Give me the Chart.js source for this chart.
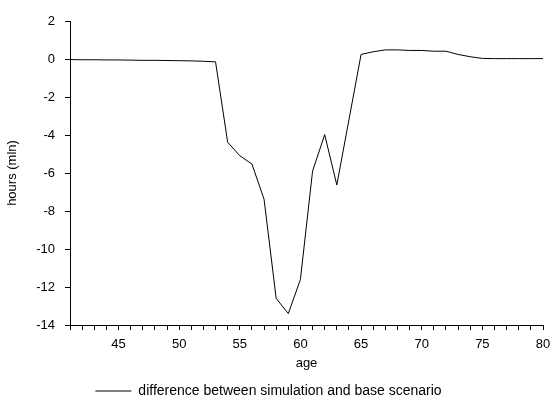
<!DOCTYPE html>
<html>
<head>
<meta charset="utf-8">
<script src="https://cdn.jsdelivr.net/npm/chart.js@4"></script>
<style>
  html, body { margin: 0; padding: 0; background: #fff; }
  #wrap { width: 554px; height: 398px; }
</style>
</head>
<body>
<div id="wrap"><canvas id="myChart"></canvas></div>
<script>
const ages = [41, 42, 43, 44, 45, 46, 47, 48, 49, 50, 51, 52, 53, 54, 55, 56, 57, 58, 59, 60,
              61, 62, 63, 64, 65, 66, 67, 68, 69, 70, 71, 72, 73, 74, 75, 76, 77, 78, 79, 80];
const diff = [-0.03, -0.04, -0.04, -0.05, -0.05, -0.06, -0.07, -0.07, -0.08, -0.09, -0.1, -0.12, -0.15,
              -4.38, -5.09, -5.53, -7.38, -12.6, -13.4, -11.6,
              -5.9, -3.98, -6.63, -3.2, 0.24, 0.38, 0.48, 0.48, 0.45, 0.45, 0.41, 0.41, 0.24, 0.12, 0.03,
              0.02, 0.02, 0.02, 0.02, 0.02];
const yTicks = [-14, -12, -10, -8, -6, -4, -2, 0, 2];
const seriesName = 'difference between simulation and base scenario';

const ctx = document.getElementById('myChart');
const font = { family: 'Liberation Sans, Arial, sans-serif', size: 13 };
const legendFont = { family: 'Liberation Sans, Arial, sans-serif', size: 14 };

const myChart = new Chart(ctx, {
  type: 'line',
  data: {
    datasets: [{
      label: seriesName,
      data: ages.map((a, i) => ({ x: a, y: diff[i] })),
      borderColor: '#000',
      backgroundColor: '#000',
      borderWidth: 1,
      pointRadius: 0,
      tension: 0
    }]
  },
  options: {
    responsive: true,
    maintainAspectRatio: false,
    animation: false,
    // negative left/bottom padding nudges the legend to where the original sits
    layout: { padding: { left: -6, right: 11, top: 21, bottom: -10 } },
    plugins: {
      tooltip: { enabled: false },
      legend: {
        position: 'bottom',
        labels: {
          usePointStyle: true,
          pointStyle: 'line',
          pointStyleWidth: 36,
          boxWidth: 36,
          boxHeight: 1,
          color: '#000',
          font: legendFont,
          padding: 0
        }
      }
    },
    scales: {
      x: {
        type: 'linear',
        min: 41,
        max: 80,
        afterFit: s => { s.height = 59; s.paddingRight = 11; s.paddingLeft = 0; },
        border: { display: true, color: '#000', width: 1 },
        grid: { drawOnChartArea: false, drawTicks: true, tickLength: 5, color: '#000' },
        ticks: {
          stepSize: 1,
          autoSkip: false,
          maxRotation: 0,
          color: '#000',
          font: font,
          padding: 7,
          callback: v => (v % 5 === 0 ? String(v) : '')
        },
        title: { display: true, text: 'age', color: '#000', font: font, padding: { top: 2, bottom: 13 } }
      },
      y: {
        min: -14,
        max: 2,
        afterFit: s => { s.width = 76; },
        afterBuildTicks: s => { s.ticks = yTicks.map(v => ({ value: v })); },
        border: { display: true, color: '#000', width: 1 },
        grid: { drawOnChartArea: false, drawTicks: true, tickLength: 5, color: '#000' },
        ticks: { color: '#000', font: font, padding: 10 },
        title: { display: true, text: 'hours (mln)', color: '#000', font: font, padding: { top: 11, bottom: 0 } }
      }
    }
  }
});
</script>
</body>
</html>
